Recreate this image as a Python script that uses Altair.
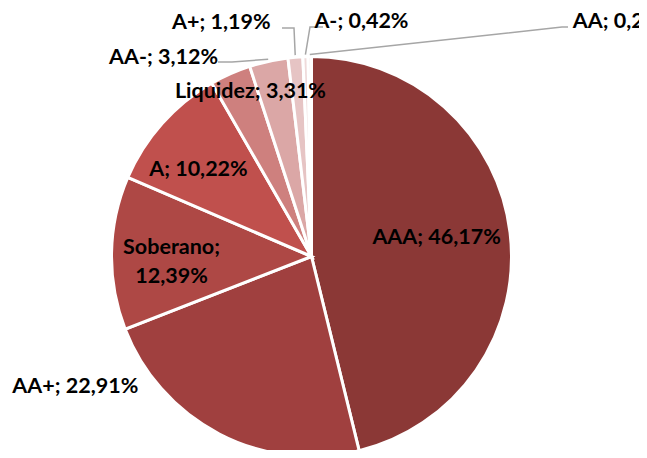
import math
import altair as alt
import pandas as pd

# ---- data ----
categories = ["AAA", "AA+", "Soberano", "A", "Liquidez", "AA-", "A+", "A-", "AA"]
values = [46.17, 22.91, 12.39, 10.22, 3.31, 3.12, 1.19, 0.42, 0.27]
labels = ["AAA; 46,17%", "AA+; 22,91%", "Soberano;\n12,39%", "A; 10,22%",
          "Liquidez; 3,31%", "AA-; 3,12%", "A+; 1,19%", "A-; 0,42%", "AA; 0,27%"]
colors = ["#8B3836", "#A0403F", "#AE4845", "#C0504D", "#CE807E",
          "#DBA7A6", "#E6C4C4", "#EFDADA", "#F5E8E8"]

# ---- layout ----
W, H = 631, 442
CX, CY, R = 303.5, 248.5, 200
FONT = "Lato"
FS = 21.5

total = sum(values)
cum = []
run = 0.0
for v in values:
    cum.append(run + v / 2)
    run += v

df = pd.DataFrame({
    "cat": categories,
    "value": values,
    "label": labels,
    "order": list(range(len(categories))),
    "mid": cum,
})

color_scale = alt.Scale(domain=categories, range=colors)

pie = alt.Chart(df).mark_arc(radius=R, stroke="white", strokeWidth=3).encode(
    x=alt.value(CX), y=alt.value(CY),
    theta=alt.Theta("value:Q", stack=True),
    color=alt.Color("cat:N", scale=color_scale, legend=None),
    order=alt.Order("order:Q"),
)

# label placement: radius, dx, dy, align
lab_pos = {
    "AAA": (126, 0, -3, "center"),
    "AA+": (200, -144, -47, "center"),
    "Soberano": (140, 0, -6, "center"),
    "A": (142, -7, 8, "center"),
    "Liquidez": (175, 10, -5, "center"),
    "AA-": (200, -105, -3, "center"),
    "A+": (200, -74, -34.5, "center"),
    "A-": (200, 56, -34.5, "center"),
    "AA": (200, 263, -34.5, "left"),
}

theta_scale = alt.Scale(domain=[0, total], range=[0, 2 * math.pi])
text_layers = []
for cat, (r, dx, dy, al) in lab_pos.items():
    t = alt.Chart(df).transform_filter(alt.datum.cat == cat).mark_text(
        radius=r, dx=dx, dy=dy, align=al, baseline="middle",
        font=FONT, fontSize=FS, fontWeight="bold", color="#000000",
        lineBreak="\n", lineHeight=29,
    ).encode(
        x=alt.value(CX), y=alt.value(CY),
        theta=alt.Theta("mid:Q", scale=theta_scale),
        text="label:N",
    )
    text_layers.append(t)

# leader lines for the small outside slices
def edge(cat, r=R + 2):
    i = categories.index(cat)
    a = cum[i] / total * 2 * math.pi
    return CX + r * math.sin(a), CY - r * math.cos(a)

leader_elbows = {
    "AA-": [(224, 54), (210, 54)],
    "A+": [(286, 20), (274, 20)],
    "A-": [(302, 19), (315, 19)],
    "AA": [(554, 19), (560, 19)],
}
rows = []
for cat, pts in leader_elbows.items():
    ex, ey = edge(cat)
    seq = [(ex, ey)] + pts
    for k, (px, py) in enumerate(seq):
        rows.append({"id": cat, "k": k, "px": px, "py": py})
ldf = pd.DataFrame(rows)

leaders = alt.Chart(ldf).mark_line(color="#A6A6A6", strokeWidth=1.5).encode(
    x=alt.X("px:Q", scale=None, axis=None),
    y=alt.Y("py:Q", scale=None, axis=None),
    detail="id:N",
    order="k:Q",
)

chart = alt.layer(pie, leaders, *text_layers).properties(
    width=W, height=H, autosize=alt.AutoSizeParams(type="none"), padding=0,
).configure_view(stroke=None)

chart.save("out.html", embed_options={"renderer": "svg", "actions": False})
